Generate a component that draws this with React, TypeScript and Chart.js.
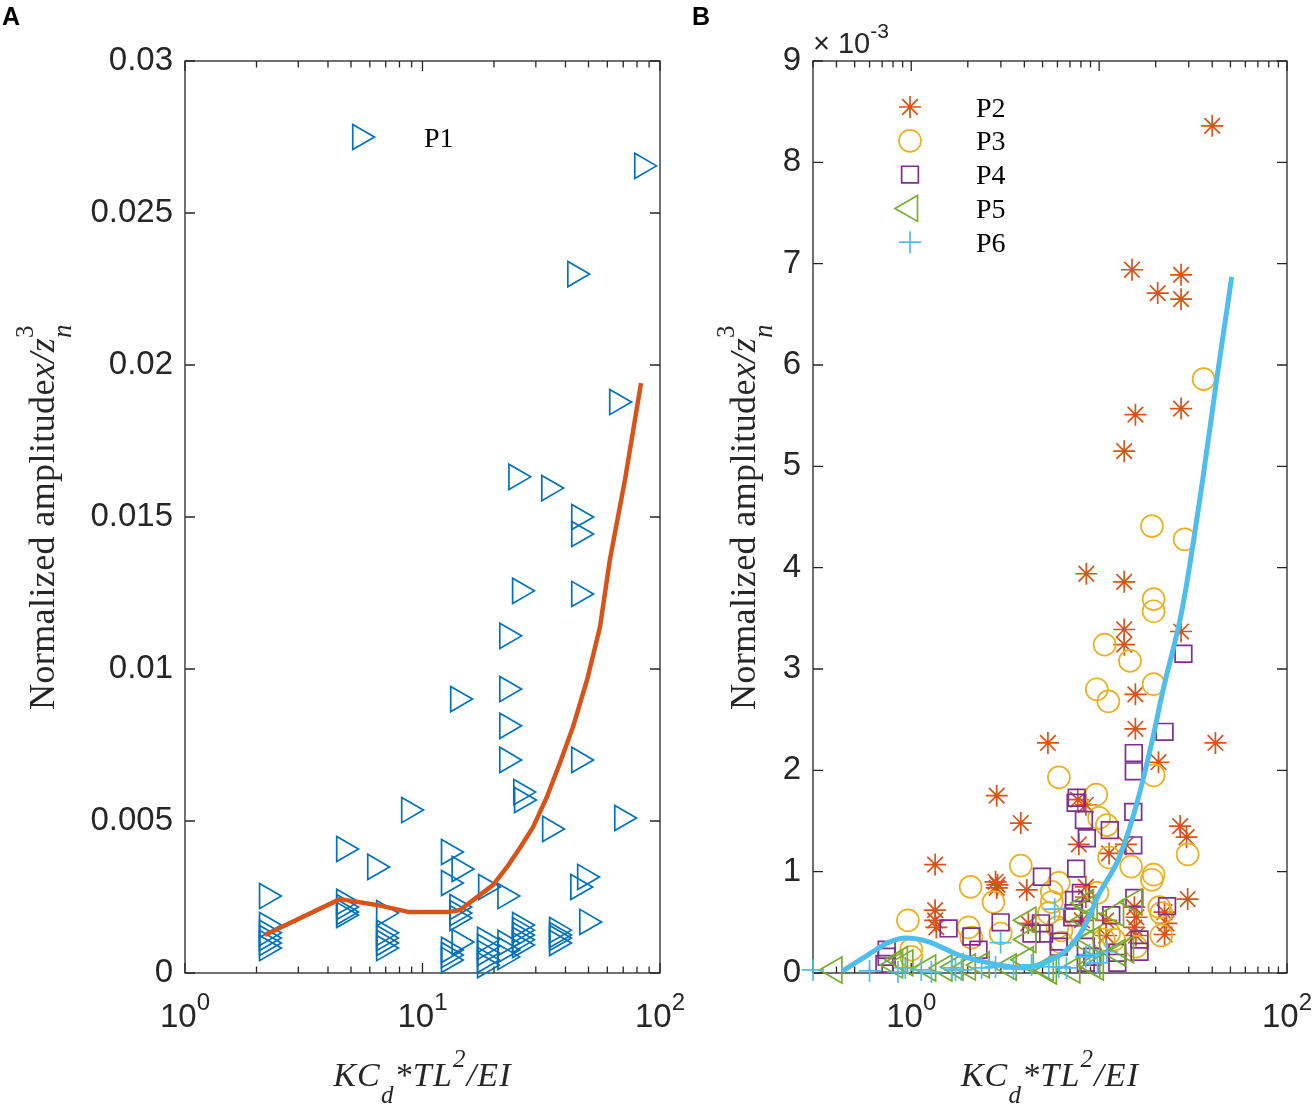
import { useEffect, useRef } from 'react';
import { Chart, registerables } from 'chart.js';
import { drawPoint } from 'chart.js/helpers';

Chart.register(...registerables);

const AXIS_COLOR = '#262626';
const SANS = "'Liberation Sans', Arial, Helvetica, sans-serif";
const SERIF = "'Liberation Serif', 'Times New Roman', Times, serif";

// ---------- panel A : P1 ----------
const p1X = [84.0, 43.9, 65.9, 24.8, 34.1, 45.6, 45.6, 45.6, 25.7, 22.7, 14.1, 22.7, 22.7, 22.7, 45.6, 26.0, 26.2, 34.4, 69.2, 8.77,
  4.67, 6.31, 12.9, 14.3, 12.9, 2.21, 48.3, 45.2, 22.3, 18.5, 49.3, 2.21, 2.21, 2.21, 2.21, 2.21, 4.67, 4.67, 4.67, 4.67,
  6.88, 6.88, 6.88, 6.88, 6.88, 14.0, 14.0, 14.0, 14.3, 12.9, 12.9, 12.9, 18.3, 18.3, 18.3, 18.3, 18.3, 22.3, 22.3, 22.3,
  25.7, 25.7, 25.7, 25.7, 25.7, 36.8, 36.8, 36.8, 36.8];
const p1Y = [0.02655, 0.02299, 0.01878, 0.01632, 0.01595, 0.0150, 0.01444, 0.01247, 0.01257, 0.01109, 0.00901, 0.00934, 0.00813, 0.00701, 0.00701, 0.00595, 0.00569, 0.00474, 0.0051, 0.00536,
  0.00408, 0.00349, 0.00398, 0.00342, 0.00296, 0.00253, 0.00316, 0.00283, 0.00253, 0.00283, 0.00168, 0.00158, 0.00132, 0.00115, 0.00099, 0.00082, 0.00234, 0.00217, 0.00201, 0.00191,
  0.00197, 0.00132, 0.00115, 0.00099, 0.00082, 0.00217, 0.00197, 0.00181, 0.00102, 0.00076, 0.00059, 0.00043, 0.00109, 0.00086, 0.00066, 0.00043, 0.00026, 0.00099, 0.00076, 0.00053,
  0.00158, 0.00141, 0.00125, 0.00109, 0.00092, 0.00141, 0.00125, 0.00115, 0.00099];
const fitAX = [2.17, 4.49, 6.43, 8.69, 13.05, 14.38, 17.46, 19.8, 22.7, 25.7, 29.2, 33.4, 37.9, 43.0, 49.3, 55.9, 61.5, 71.2, 83.2];
const fitAY = [0.00125, 0.00243, 0.00224, 0.00201, 0.00201, 0.00207, 0.00257, 0.00289, 0.00349, 0.00411, 0.0048, 0.00579, 0.00691, 0.00809, 0.00964, 0.01138, 0.01359, 0.01622, 0.0194];
const yTicksA = [0, 0.005, 0.01, 0.015, 0.02, 0.025, 0.03];
const yLabelsA = ['0', '0.005', '0.01', '0.015', '0.02', '0.025', '0.03'];
const xDecadesA = [0, 1, 2];

// ---------- panel B : P2..P6 (amplitude x 10^-3) ----------
const p2X = [40.0, 14.96, 27.3, 20.5, 27.3, 15.6, 27.3, 13.6, 8.55, 13.6, 13.6, 13.6, 27.3, 15.6, 15.6, 41.6, 5.34, 20.7, 7.7, 8.5,
  2.85, 3.83, 7.8, 11.3, 13.9, 27.0, 29.2, 29.6, 1.34, 2.81, 2.88, 2.85, 4.12, 8.5, 8.5, 1.34, 1.34, 1.36, 10.9, 15.4,
  15.8, 15.4, 15.7, 22.3, 22.8, 22.3, 4.2, 8.1, 10.9];
const p2Y = [8.36, 6.94, 6.89, 6.71, 6.65, 5.51, 5.57, 5.15, 3.94, 3.86, 3.39, 3.24, 3.37, 2.75, 2.41, 2.27, 2.27, 2.08, 1.71, 1.66,
  1.75, 1.48, 1.27, 1.18, 1.27, 1.45, 1.34, 0.73, 1.07, 0.90, 0.87, 0.84, 0.82, 0.85, 0.75, 0.62, 0.52, 0.45, 0.52, 0.65,
  0.55, 0.45, 0.37, 0.60, 0.49, 0.38, 0.49, 0.52, 0.37];
const p3X = [36.0, 19.1, 28.5, 19.5, 19.5, 10.7, 14.6, 9.72, 11.2, 19.5, 19.5, 6.11, 9.65, 10.0, 11.0, 11.3, 14.8, 19.5, 29.6, 6.1,
  5.6, 9.8, 21.4, 21.4, 15.7, 11.3, 10.6, 3.83, 2.07, 5.6, 2.74, 0.96, 2.02, 2.09, 2.99, 1.0, 1.0, 5.4, 12.0, 20.9,
  19.1, 6.3, 6.0, 6.3];
const p3Y = [5.86, 4.41, 4.28, 3.69, 3.57, 3.24, 3.08, 2.80, 2.68, 2.85, 1.95, 1.93, 1.76, 1.53, 1.46, 1.14, 1.05, 0.97, 1.17, 0.89,
  0.80, 0.79, 0.59, 0.37, 0.26, 0.39, 0.33, 1.06, 0.85, 0.70, 0.70, 0.52, 0.45, 0.35, 0.39, 0.23, 0.16, 0.59, 0.33, 0.65,
  0.92, 0.42, 0.45, 0.30];
const p4X = [28.1, 22.3, 15.3, 15.3, 7.6, 7.5, 8.3, 11.4, 8.6, 15.2, 15.2, 4.96, 7.55, 8.0, 7.35, 23.0, 11.6, 7.2, 16.4, 16.4,
  12.5, 12.5, 0.72, 1.58, 2.09, 2.99, 2.28, 0.74, 0.74, 4.37, 6.1, 8.5, 15.4, 4.9, 6.1, 9.2, 8.5, 5.1, 7.3];
const p4Y = [3.15, 2.38, 2.17, 1.99, 1.73, 1.68, 1.51, 1.41, 1.33, 1.59, 1.26, 0.95, 1.03, 0.79, 0.72, 0.66, 0.57, 0.55, 0.33, 0.21,
  0.20, 0.10, 0.09, 0.44, 0.36, 0.50, 0.23, 0.23, 0.16, 0.39, 0.31, 0.26, 0.74, 0.49, 0.26, 0.16, 0.10, 0.39, 0.59];
const p5X = [0.39, 0.82, 0.93, 1.23, 1.72, 2.37, 3.3, 4.2, 4.07, 4.2, 5.2, 8.5, 9.2, 15.4, 8.5, 12.3, 9.2, 13.9, 8.9, 8.5,
  12.5, 9.6, 7.2, 5.4, 1.5, 2.0, 0.87];
const p5Y = [0.03, 0.08, 0.10, 0.05, 0.06, 0.08, 0.06, 0.52, 0.13, 0.33, 0.05, 0.52, 0.08, 0.70, 0.69, 0.59, 0.33, 0.23, 0.65, 0.30,
  0.20, 0.06, 0.03, 0.02, 0.05, 0.06, 0.13];
const p6X = [0.3, 0.60, 0.85, 0.93, 1.13, 1.28, 1.64, 1.72, 1.85, 2.37, 2.81, 2.99, 4.37, 5.8, 6.1, 6.7, 5.4, 8.5, 8.9, 11.0, 9.8, 3.5];
const p6Y = [0.03, 0.02, 0.01, 0.05, 0.03, 0.01, 0.05, 0.03, 0.03, 0.05, 0.06, 0.30, 0.08, 0.63, 0.06, 0.05, 0.06, 0.16, 0.18, 0.21, 0.10, 0.04];
const fitBX = [0.43, 0.589, 0.753, 0.93, 1.23, 1.78, 2.92, 3.97, 5.08, 6.66, 8.3, 10.0, 12.8, 15.8, 19.2, 21.7, 27.8, 35.6, 42.2, 50.8];
const fitBY = [0.02, 0.18, 0.30, 0.345, 0.31, 0.18, 0.08, 0.05, 0.10, 0.22, 0.45, 0.78, 1.14, 1.66, 2.30, 2.76, 3.61, 4.87, 5.85, 6.87];
const yTicksB = [0, 1, 2, 3, 4, 5, 6, 7, 8, 9];
const yLabelsB = ['0', '1', '2', '3', '4', '5', '6', '7', '8', '9'];
const xDecadesB = [0, 2];

const pts = (xs: number[], ys: number[]) => xs.map((x, i) => ({ x, y: ys[i] }));

type Part = { t: string; size: number; family?: string; italic?: boolean; bold?: boolean; dy?: number; adv?: boolean };

const fontOf = (p: Part) => `${p.italic ? 'italic ' : ''}${p.bold ? 'bold ' : ''}${p.size}px ${p.family ?? SERIF}`;

function drawParts(ctx: CanvasRenderingContext2D, parts: Part[], x: number, y: number, center: boolean, spacing = 0, color = AXIS_COLOR) {
  ctx.save();
  (ctx as any).letterSpacing = `${spacing}px`;
  ctx.fillStyle = color;
  ctx.textAlign = 'left';
  ctx.textBaseline = 'alphabetic';
  let total = 0;
  const widths = parts.map((p) => {
    ctx.font = fontOf(p);
    const w = ctx.measureText(p.t).width;
    if (p.adv !== false) total += w;
    return w;
  });
  let cx = center ? x - total / 2 : x;
  parts.forEach((p, i) => {
    ctx.font = fontOf(p);
    ctx.fillText(p.t, cx, y + (p.dy ?? 0));
    if (p.adv !== false) cx += widths[i];
  });
  ctx.restore();
}

type LegendItem = { label: string; style: string; rotation: number; radius: number; color: string };

type PanelCfg = {
  left: number; width: number; plotLeft: number; plotRight: number;
  xMin: number; xMax: number; yMax: number;
  yTicks: number[]; yLabels: string[]; xDecades: number[];
  datasets: any[];
  legend: LegendItem[]; legendX: number; legendTextX: number; legendY: number; legendDy: number;
  yTitleX: number; letter: string; exponent: boolean;
};

const xTitle: Part[] = [
  { t: 'KC', size: 34, italic: true },
  { t: 'd', size: 25, italic: true, dy: 17 },
  { t: '*TL', size: 34, italic: true },
  { t: '2', size: 25, italic: true, dy: -19 },
  { t: '/EI', size: 34, italic: true },
];
const yTitle: Part[] = [
  { t: 'Normalized amplitude', size: 36 },
  { t: 'x/z', size: 36, italic: true },
  { t: '3', size: 25, dy: -21, adv: false },
  { t: 'n', size: 27, italic: true, dy: 17 },
];

const markerSet = (label: string, xs: number[], ys: number[], item: LegendItem, order: number) => ({
  label,
  data: pts(xs, ys),
  pointStyle: item.style,
  pointRotation: item.rotation,
  pointRadius: item.radius,
  pointBorderColor: item.color,
  pointBackgroundColor: 'rgba(0,0,0,0)',
  pointBorderWidth: 1.7,
  showLine: false,
  clip: false,
  order,
});

const lineSet = (xs: number[], ys: number[], color: string, width: number, smooth: boolean) => ({
  label: 'fit',
  data: pts(xs, ys),
  showLine: true,
  borderColor: color,
  borderWidth: width,
  borderJoinStyle: 'round',
  pointRadius: 0,
  tension: 0,
  cubicInterpolationMode: smooth ? 'monotone' : 'default',
  clip: false,
  order: 0,
});

const legP1: LegendItem = { label: 'P1', style: 'triangle', rotation: 90, radius: 14.5, color: '#0072BD' };
const legP2: LegendItem = { label: 'P2', style: 'star', rotation: 0, radius: 11, color: '#D95319' };
const legP3: LegendItem = { label: 'P3', style: 'circle', rotation: 0, radius: 11, color: '#EDB120' };
const legP4: LegendItem = { label: 'P4', style: 'rect', rotation: 0, radius: 11.8, color: '#7E2F8E' };
const legP5: LegendItem = { label: 'P5', style: 'triangle', rotation: -90, radius: 15, color: '#77AC30' };
const legP6: LegendItem = { label: 'P6', style: 'cross', rotation: 0, radius: 11, color: '#4DBEEE' };

const panelA: PanelCfg = {
  left: 0, width: 690, plotLeft: 185, plotRight: 660,
  xMin: 1, xMax: 100, yMax: 0.03,
  yTicks: yTicksA, yLabels: yLabelsA, xDecades: xDecadesA,
  datasets: [
    lineSet(fitAX, fitAY, '#D95319', 4.5, false),
    markerSet('P1', p1X, p1Y, legP1, 1),
  ],
  legend: [legP1], legendX: 360, legendTextX: 424, legendY: 137, legendDy: 0,
  yTitleX: 54, letter: 'A', exponent: false,
};

const panelB: PanelCfg = {
  left: 690, width: 622, plotLeft: 123, plotRight: 597,
  xMin: 0.3, xMax: 100, yMax: 9,
  yTicks: yTicksB, yLabels: yLabelsB, xDecades: xDecadesB,
  datasets: [
    lineSet(fitBX, fitBY, '#4DBEEE', 5, true),
    markerSet('P6', p6X, p6Y, legP6, 1),
    markerSet('P5', p5X, p5Y, legP5, 2),
    markerSet('P4', p4X, p4Y, legP4, 3),
    markerSet('P3', p3X, p3Y, legP3, 4),
    markerSet('P2', p2X, p2Y, legP2, 5),
  ],
  legend: [legP2, legP3, legP4, legP5, legP6], legendX: 220, legendTextX: 286, legendY: 107, legendDy: 33.8,
  yTitleX: 65, letter: 'B', exponent: true,
};

function axesPlugin(cfg: PanelCfg) {
  return {
    id: 'matlabAxes',
    beforeDatasetsDraw(chart: Chart) {
      const { ctx, chartArea: a } = chart;
      const xs = chart.scales.x;
      const ys = chart.scales.y;
      ctx.save();
      ctx.strokeStyle = AXIS_COLOR;
      ctx.lineWidth = 1.3;
      ctx.strokeRect(a.left, a.top, a.right - a.left, a.bottom - a.top);
      ctx.beginPath();
      ys.ticks.forEach((t) => {
        const py = ys.getPixelForValue(t.value);
        ctx.moveTo(a.left, py); ctx.lineTo(a.left + 10, py);
        ctx.moveTo(a.right, py); ctx.lineTo(a.right - 10, py);
      });
      const e0 = Math.floor(Math.log10(cfg.xMin));
      const e1 = Math.ceil(Math.log10(cfg.xMax));
      for (let e = e0; e <= e1; e++) {
        for (let k = 1; k <= 9; k++) {
          const v = k * Math.pow(10, e);
          if (v < cfg.xMin * 0.999 || v > cfg.xMax * 1.001) continue;
          const px = xs.getPixelForValue(v);
          const len = k === 1 ? 10 : 6.5;
          ctx.moveTo(px, a.bottom); ctx.lineTo(px, a.bottom - len);
          ctx.moveTo(px, a.top); ctx.lineTo(px, a.top + len);
        }
      }
      ctx.stroke();
      ctx.restore();
    },
    afterDraw(chart: Chart) {
      const { ctx, chartArea: a } = chart;
      const xs = chart.scales.x;
      // log tick labels 10^n
      cfg.xDecades.forEach((d) => {
        drawParts(ctx, [
          { t: '10', size: 33, family: SANS },
          { t: String(d), size: 24, family: SANS, dy: -17 },
        ], xs.getPixelForValue(Math.pow(10, d)), 1027, true);
      });
      drawParts(ctx, xTitle, (a.left + a.right) / 2, 1086, true, 1.2);
      ctx.save();
      ctx.translate(cfg.yTitleX, (a.top + a.bottom) / 2);
      ctx.rotate(-Math.PI / 2);
      drawParts(ctx, yTitle, 0, 0, true, 0.4);
      ctx.restore();
      // legend (no box)
      cfg.legend.forEach((item, i) => {
        const y = cfg.legendY + i * cfg.legendDy;
        ctx.save();
        ctx.strokeStyle = item.color;
        ctx.fillStyle = 'rgba(0,0,0,0)';
        ctx.lineWidth = 1.7;
        drawPoint(ctx, { pointStyle: item.style as any, rotation: item.rotation, radius: item.radius, borderWidth: 1.7 }, cfg.legendX, y);
        ctx.restore();
        drawParts(ctx, [{ t: item.label, size: 28 }], cfg.legendTextX, y + 9.5, false, 0, '#000');
      });
      drawParts(ctx, [{ t: cfg.letter, size: 25, bold: true, family: SANS }], 2, 25, false, 0, '#000');
      if (cfg.exponent) {
        drawParts(ctx, [
          { t: '\u00d7 10', size: 29, family: SANS },
          { t: '-3', size: 21, family: SANS, dy: -15 },
        ], a.left, 53, false);
      }
    },
  };
}

function Panel({ cfg }: { cfg: PanelCfg }) {
  const ref = useRef<HTMLCanvasElement>(null);
  const chartRef = useRef<Chart | null>(null);

  useEffect(() => {
    if (!ref.current) return;
    chartRef.current?.destroy();
    chartRef.current = new Chart(ref.current, {
      type: 'scatter',
      data: { datasets: cfg.datasets },
      options: {
        responsive: false,
        animation: false,
        events: [],
        layout: { padding: { left: 0, top: 61, right: cfg.width - cfg.plotRight, bottom: 0 } },
        plugins: { legend: { display: false }, tooltip: { enabled: false } },
        scales: {
          x: {
            type: 'logarithmic', min: cfg.xMin, max: cfg.xMax,
            afterFit: (s: any) => { s.height = 140; },
            ticks: { display: false },
            grid: { display: false, drawTicks: false },
            border: { display: false },
          },
          y: {
            type: 'linear', min: 0, max: cfg.yMax,
            afterFit: (s: any) => { s.width = cfg.plotLeft; },
            afterBuildTicks: (s: any) => { s.ticks = cfg.yTicks.map((v) => ({ value: v })); },
            ticks: {
              autoSkip: false,
              padding: 12,
              color: AXIS_COLOR,
              font: { family: SANS, size: 33 },
              callback: (_v: any, i: number) => cfg.yLabels[i],
            },
            grid: { display: false, drawTicks: false },
            border: { display: false },
          },
        },
      } as any,
      plugins: [axesPlugin(cfg)],
    });
    return () => { chartRef.current?.destroy(); chartRef.current = null; };
  }, [cfg]);

  return (
    <canvas
      ref={ref}
      width={cfg.width}
      height={1113}
      style={{ position: 'absolute', left: cfg.left, top: 0 }}
    />
  );
}

export default function App() {
  return (
    <div style={{ position: 'absolute', left: 0, top: 0, width: 1312, height: 1113, background: '#fff' }}>
      <Panel cfg={panelA} />
      <Panel cfg={panelB} />
    </div>
  );
}
